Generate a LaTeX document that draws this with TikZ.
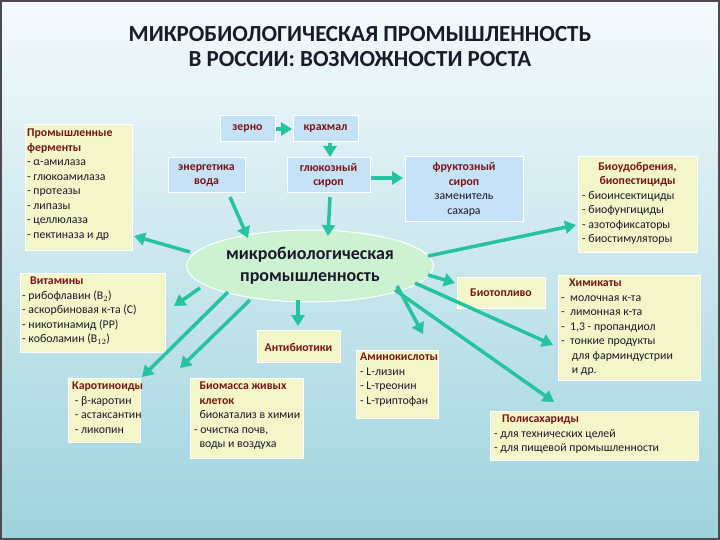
\documentclass[tikz,border=0pt]{standalone}
\usepackage{fontspec}
\setmainfont{Carlito}
\usetikzlibrary{arrows.meta,shapes.geometric}
\definecolor{bgtop}{HTML}{F4FAFC}
\definecolor{bgbot}{HTML}{9FD3DE}
\definecolor{yel}{HTML}{F2F6C8}
\definecolor{blu}{HTML}{C6E2F7}
\definecolor{grn}{HTML}{CDF2D2}
\definecolor{arr}{HTML}{26C3A0}
\definecolor{hd}{HTML}{7A1414}
\definecolor{tx}{HTML}{1A1A2A}
\tikzset{
 ybox/.style={draw=white,line width=1pt,fill=yel,inner sep=0pt},
 bbox/.style={draw=white,line width=1pt,fill=blu,inner sep=0pt},
 ar/.style={draw=arr,line width=3.5pt,-{Triangle[length=11pt,width=13pt]}},
 lbl/.style={anchor=north west,align=left,inner sep=0pt,font=\fontsize{11.8}{14.5}\selectfont,text=tx},
 cl/.style={align=center,inner sep=0pt,font=\fontsize{11.8}{14.5}\selectfont,text=tx},
}
\newcommand{\hh}[1]{\textcolor{hd}{\bfseries #1}}
\begin{document}
\begin{tikzpicture}[x=1pt,y=-1pt]
\useasboundingbox (0,0) rectangle (720,540);
\shade[top color=bgtop,bottom color=bgbot] (0,0) rectangle (720,540);
\draw[line width=2pt,color=black!70] (1,1) rectangle (719,539);
\node[font=\bfseries\fontsize{23}{25}\selectfont,align=center,text=tx] (title) at (360,47) {МИКРОБИОЛОГИЧЕСКАЯ ПРОМЫШЛЕННОСТЬ\\В РОССИИ: ВОЗМОЖНОСТИ РОСТА};
% boxes
\path[ybox] (25,125) rectangle (132,250); \node[lbl] (ferm) at (27,129) {\hh{Промышленные}\\\hh{ферменты}\\- α-амилаза\\- глюкоамилаза\\- протеазы\\- липазы\\- целлюлаза\\- пектиназа и др};
\path[ybox] (20,273) rectangle (165,352); \node[lbl] (vit) at (22,277) {\ \ \ \hh{Витамины}\\- рибофлавин (B$_2$)\\- аскорбиновая к-та (C)\\- никотинамид (PP)\\- коболамин (B$_{12}$)};
\path[ybox] (68,378) rectangle (140,442); \node[lbl] (car) at (72,382) {\hh{Каротиноиды}\\\ - β-каротин\\\ - астаксантин\\\ - ликопин};
\path[ybox] (190,378) rectangle (303,458); \node[lbl] (bio) at (194,382) {\ \ \hh{Биомасса живых}\\\ \ \hh{клеток}\\\ \ биокатализ в химии\\- очистка почв,\\\ \ воды и воздуха};
\path[ybox] (257,330) rectangle (340,362); \node[cl] (ant) at (298.5,347) {\hh{Антибиотики}};
\path[ybox] (356,350) rectangle (438,418); \node[lbl] (ami) at (360,353) {\hh{Аминокислоты}\\- L-лизин\\- L-треонин\\- L-триптофан};
\path[ybox] (490,411) rectangle (698,460); \node[lbl] (pol) at (494,415) {\ \ \ \hh{Полисахариды}\\- для технических целей\\- для пищевой промышленности};
\path[ybox] (558,275) rectangle (700,380); \node[lbl] (chem) at (561,279) {\ \ \ \hh{Химикаты}\\- \ молочная к-та\\- \ лимонная к-та\\- \ 1,3 - пропандиол\\- \ тонкие продукты\\\ \ \ \ для фарминдустрии\\\ \ \ \ и др.};
\path[ybox] (457,277) rectangle (545,308); \node[cl] (fuel) at (501,292.5) {\hh{Биотопливо}};
\path[ybox] (578,157) rectangle (697,252); \node[cl,anchor=north] (fert) at (637.5,162) {\hh{Биоудобрения,}\\\hh{биопестициды}}; \node[lbl] (fertl) at (582,191) {- биоинсектициды\\- биофунгициды\\- азотофиксаторы\\- биостимуляторы};
\path[bbox] (405,157) rectangle (523,222); \node[cl] (fru) at (464,189.5) {\hh{фруктозный}\\\hh{сироп}\\заменитель\\сахара};
\path[bbox] (220,116) rectangle (275,142); \node[cl] (zer) at (247.5,129) {\hh{зерно}};
\path[bbox] (293,116) rectangle (358,142); \node[cl] (kra) at (325.5,129) {\hh{крахмал}};
\path[bbox] (168,158) rectangle (245,193); \node[cl] (ene) at (206.5,175.5) {\hh{энергетика}\\\hh{вода}};
\path[bbox] (287,158) rectangle (370,193); \node[cl] (glu) at (328.5,175.5) {\hh{глюкозный}\\\hh{сироп}};
\node[ellipse,fill=grn,draw=white,line width=1pt,minimum width=240pt,minimum height=72pt,align=center,font=\bfseries\fontsize{18}{22}\selectfont,text=tx] (mic) at (310,266) {микробиологическая\\промышленность};
% arrows
\draw[ar] (276,129) -- (292,129);
\draw[ar] (330,143) -- (330,157);
\draw[ar] (371,178) -- (403,178);
\draw[ar] (230,197) -- (248,238);
\draw[ar] (330,197) -- (328,236);
\draw[ar] (190,252) -- (134,236);
\draw[ar] (200,288) -- (174,306);
\draw[ar] (228,292) -- (142,377);
\draw[ar] (250,300) -- (180,368);
\draw[ar] (298,300) -- (298,326);
\draw[ar] (397,286) -- (423,334);
\draw[ar] (428,275) -- (455,283);
\draw[ar] (428,256) -- (576,225);
\draw[ar] (415,283) -- (553,345);
\draw[ar] (395,290) -- (554,402);
\end{tikzpicture}
\end{document}
